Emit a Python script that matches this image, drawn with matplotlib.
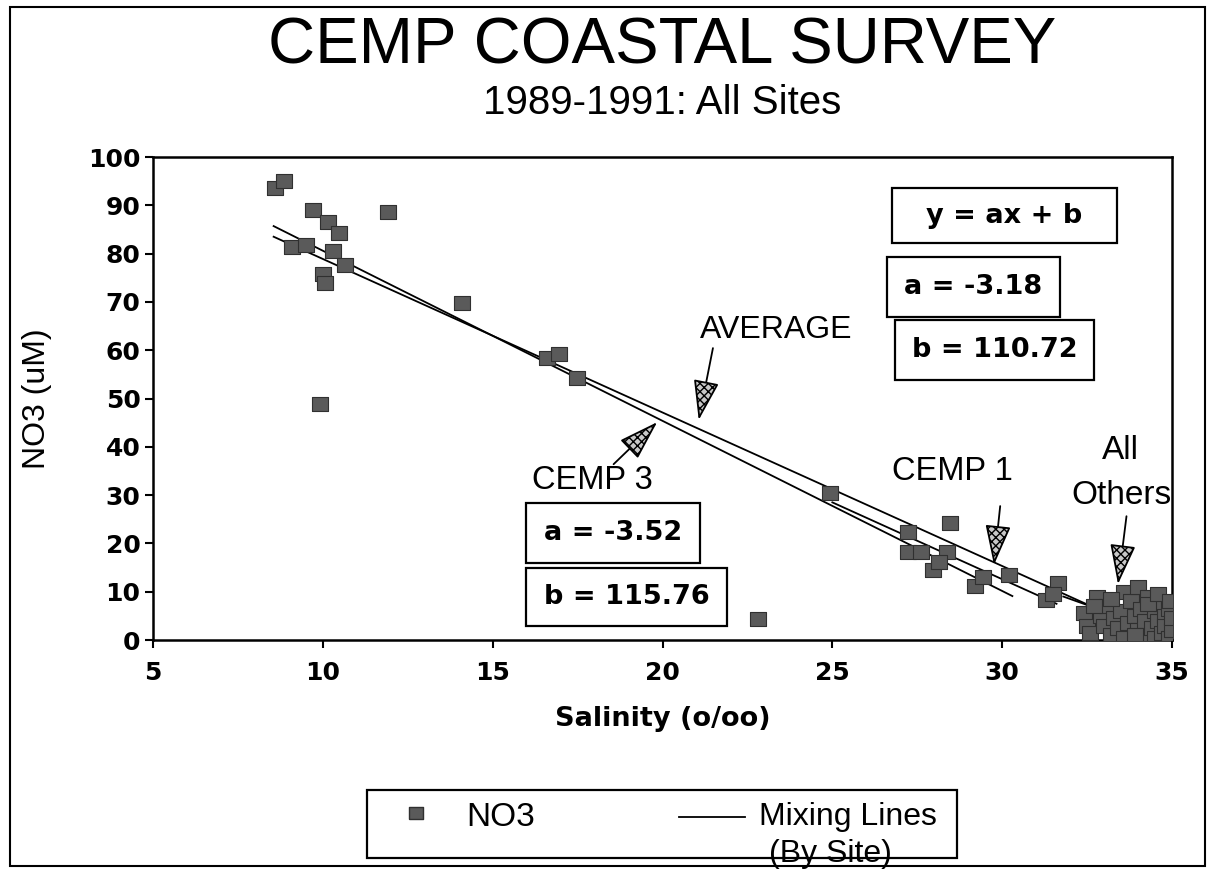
import matplotlib
matplotlib.use('Agg')
import matplotlib.pyplot as plt
from matplotlib.patches import Rectangle, FancyArrowPatch
from matplotlib.lines import Line2D

plt.rcParams['font.family'] = ['Liberation Sans', 'DejaVu Sans']

# ---- data ----
salinity = [8.6, 8.85, 9.72, 10.14, 10.47, 9.1, 9.5, 10.3, 10.0, 10.06, 10.65, 9.92,
            11.91, 14.09, 16.6, 16.95, 17.48, 24.94, 22.8,
            27.24, 27.24, 27.6, 28.47, 28.37, 27.95, 28.15,
            29.2, 29.45, 30.2, 31.3, 31.65, 31.5,
            32.4, 32.5, 32.6, 32.8, 32.9, 33.0, 33.1, 33.2, 33.3, 33.4, 33.5, 33.6,
            33.6, 33.7, 33.8, 33.9, 34.0, 34.0, 34.1, 34.2, 34.2, 34.3, 34.4, 34.5,
            34.5, 34.6, 34.7, 34.7, 34.8, 34.8, 34.9, 34.9, 35.0, 35.0, 34.3, 33.9,
            32.7, 34.6, 34.95, 33.2]
no3 = [93.6, 95.1, 89.0, 86.6, 84.2, 81.4, 81.8, 80.6, 75.8, 73.9, 77.6, 48.8,
       88.7, 69.8, 58.3, 59.2, 54.2, 30.4, 4.3,
       22.4, 18.3, 18.3, 24.2, 18.3, 14.6, 16.2,
       11.2, 13.0, 13.4, 8.2, 11.8, 9.5,
       5.5, 3.0, 1.5, 9.0, 5.0, 3.0, 7.0, 1.0, 4.5, 2.5, 6.0, 10.0,
       0.5, 3.5, 8.0, 5.0, 11.0, 2.0, 6.5, 0.5, 4.0, 9.0, 2.5, 6.0,
       0.5, 4.0, 7.5, 1.5, 5.0, 3.0, 0.5, 6.5, 2.0, 4.5, 7.5, 1.0,
       7.0, 9.5, 8.0, 8.5]

line_names = ['CEMP 3', 'AVERAGE', 'CEMP 1', 'All Others']
line_x = [[8.55, 30.3], [8.55, 33.5], [25.0, 31.6], [31.8, 34.8]]
line_y = [[85.7, 9.1], [83.5, 4.2], [28.5, 7.5], [9.0, 1.5]]

x_ticks = [5, 10, 15, 20, 25, 30, 35]
y_ticks = [0, 10, 20, 30, 40, 50, 60, 70, 80, 90, 100]

BOLD = dict(family=['DejaVu Sans'], fontweight='bold')

# ---- figure ----
fig = plt.figure(figsize=(12.08, 8.69), dpi=100)
ax = fig.add_axes([0.1267, 0.2635, 0.8435, 0.5558])

for lx, ly in zip(line_x, line_y):
    ax.plot(lx, ly, color='black', lw=1.3, zorder=2)

rect_marker = [(-1, -0.8), (1, -0.8), (1, 0.8), (-1, 0.8), (-1, -0.8)]
ax.plot(salinity, no3, linestyle='none', marker=rect_marker, markersize=12,
        markerfacecolor='#5a5a5a', markeredgecolor='#303030', markeredgewidth=0.8, zorder=3)

ax.set_xlim(5, 35)
ax.set_ylim(0, 100)
ax.set_xticks(x_ticks)
ax.set_yticks(y_ticks)
ax.tick_params(direction='out', length=6, width=1.5)
ax.tick_params(axis='x', pad=9)
ax.tick_params(axis='y', pad=3)
for lab in ax.get_xticklabels() + ax.get_yticklabels():
    lab.set_fontfamily(['DejaVu Sans'])
    lab.set_fontweight('bold')
    lab.set_fontsize(18)
for sp in ax.spines.values():
    sp.set_linewidth(1.8)

ax.set_xlabel('Salinity (o/oo)', fontsize=19.5, **BOLD)
ax.xaxis.set_label_coords(0.5, -0.1636)
ax.xaxis.label.set_va('center')
ax.set_ylabel('NO3 (uM)', fontsize=23)
ax.yaxis.set_label_coords(-0.114, 0.5)
ax.yaxis.label.set_va('center')

# boxes
def box(x0, x1, y0, y1, txt):
    ax.add_patch(Rectangle((x0, y0), x1 - x0, y1 - y0, fill=False, lw=1.6,
                           edgecolor='black', zorder=4))
    ax.text((x0 + x1) / 2, (y0 + y1) / 2, txt, ha='center', va='center',
            fontsize=19.5, zorder=5, **BOLD)

box(26.75, 33.38, 82.1, 93.5, 'y = ax + b')
box(26.6, 31.7, 66.9, 79.4, 'a = -3.18')
box(26.85, 32.7, 53.8, 66.3, 'b = 110.72')
box(15.98, 21.1, 15.9, 28.4, 'a = -3.52')
box(15.98, 21.9, 2.8, 15.0, 'b = 115.76')

ax.text(21.1, 62.5, 'AVERAGE', fontsize=23, ha='left', va='baseline')
ax.text(16.15, 33.0, 'CEMP 3', fontsize=23.5, ha='left', va='center')
ax.text(28.55, 34.8, 'CEMP 1', fontsize=23.5, ha='center', va='center')
ax.text(33.47, 39.2, 'All', fontsize=24, ha='center', va='center')
ax.text(33.5, 29.85, 'Others', fontsize=24, ha='center', va='center')

def arrow(p0, p1):
    a = FancyArrowPatch(p0, p1, arrowstyle='-|>,head_length=1.4,head_width=0.45',
                        mutation_scale=18, facecolor='#c8c8c8', edgecolor='black',
                        hatch='xxxx', lw=1.3, zorder=6)
    ax.add_patch(a)

arrow((21.5, 61.0), (21.05, 45.0))
arrow((18.5, 36.0), (19.9, 45.5))
arrow((29.95, 28.3), (29.75, 15.0))
arrow((33.67, 26.2), (33.4, 11.0))

# titles
fig.text(0.548, 0.947, 'CEMP COASTAL SURVEY', fontsize=47, ha='center', va='center')
fig.text(0.548, 0.882, '1989-1991: All Sites', fontsize=29, ha='center', va='center')

# legend (manual)
fig.add_artist(Rectangle((0.304, 0.0127), 0.488, 0.0782, transform=fig.transFigure,
                         fill=False, lw=1.6, edgecolor='black'))
fig.add_artist(Line2D([0.344], [0.0645], transform=fig.transFigure, marker=rect_marker,
                      markersize=10, markerfacecolor='#5a5a5a', markeredgecolor='#303030',
                      linestyle='none'))
fig.text(0.386, 0.0587, 'NO3', fontsize=24, ha='left', va='center')
fig.add_artist(Line2D([0.562, 0.617], [0.0598, 0.0598], transform=fig.transFigure,
                      color='black', lw=1.3))
fig.text(0.628, 0.0598, 'Mixing Lines', fontsize=23, ha='left', va='center')
fig.text(0.637, 0.0173, '(By Site)', fontsize=23, ha='left', va='center')

# outer frame
fig.add_artist(Rectangle((0.0083, 0.0035), 0.9892, 0.9885, transform=fig.transFigure,
                         fill=False, lw=1.5, edgecolor='black'))

fig.savefig('out.png', dpi=100)
